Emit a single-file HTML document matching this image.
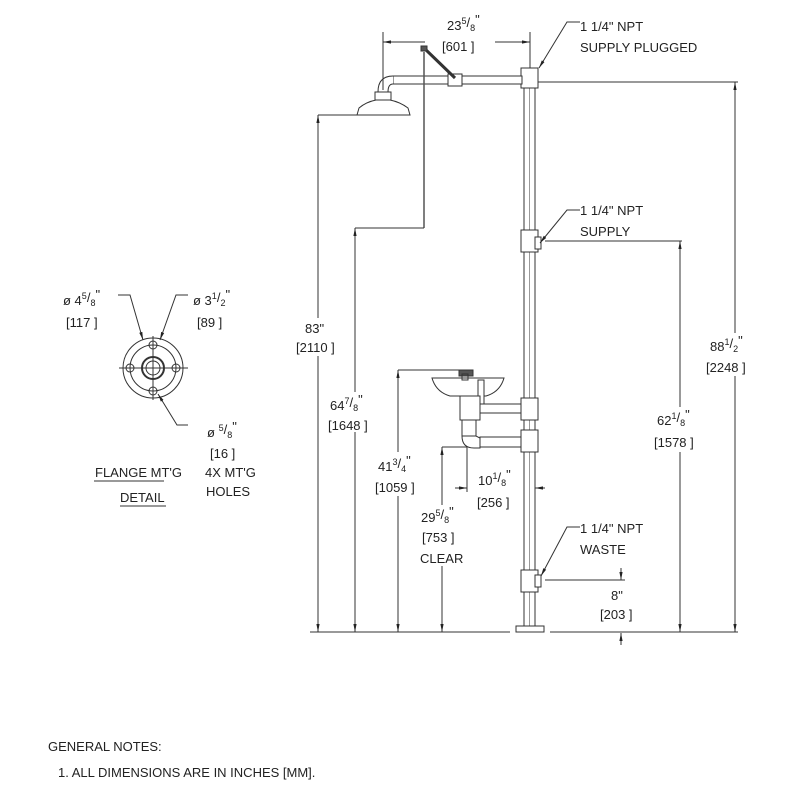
<!DOCTYPE html>
<html><head><meta charset="utf-8"><style>
html,body{margin:0;padding:0;background:#fff;}
svg{display:block;}
text{font-family:"Liberation Sans",sans-serif;font-size:13px;fill:#222;}
.s{font-size:9px;}
</style></head><body>
<svg width="800" height="800" viewBox="0 0 800 800" xmlns="http://www.w3.org/2000/svg">
<defs>
<marker id="a" viewBox="0 0 10 10" refX="10" refY="5" markerWidth="8" markerHeight="8" orient="auto-start-reverse"><path d="M0,3 L10,5 L0,7 z" fill="#222"/></marker>
</defs>
<g stroke="#333" stroke-width="1" fill="none">
<line x1="310" y1="632" x2="510" y2="632"/>
<line x1="550" y1="632" x2="738" y2="632"/>
<rect x="524" y="72" width="11" height="554" fill="#fff"/>
<line x1="529.5" y1="72" x2="529.5" y2="626" stroke="#999"/>
<rect x="521" y="68" width="17" height="20" fill="#fff"/>
<rect x="521" y="230" width="17" height="22" fill="#fff"/>
<rect x="521" y="398" width="17" height="22" fill="#fff"/>
<rect x="521" y="430" width="17" height="22" fill="#fff"/>
<rect x="521" y="570" width="17" height="22" fill="#fff"/>
<rect x="535" y="237" width="6" height="12" fill="#fff"/>
<rect x="535" y="575" width="6" height="12" fill="#fff"/>
<rect x="516" y="626" width="28" height="6" fill="#fff"/>
<rect x="393" y="76" width="129" height="8" fill="#fff"/>
<rect x="448" y="74" width="14" height="12" fill="#fff"/>
<path d="M393,76 Q378,76 378,92 L388,92 Q388,84 393,84" fill="#fff"/>
<rect x="375" y="92" width="16" height="8" fill="#fff"/>
<path d="M357,115 L410,115 L408,108 Q400,102 390,100 L376,100 Q366,102 359,108 Z" fill="#fff"/>
<line x1="424" y1="48" x2="455" y2="78" stroke-width="3"/>
<line x1="424" y1="52" x2="424" y2="228" stroke-width="1.5" stroke="#555"/>
<rect x="421" y="46" width="6" height="5" fill="#555"/>
<line x1="424" y1="228" x2="355" y2="228"/>
<path d="M432,378 L504,378 Q500,392 486,396 L450,396 Q436,392 432,378 Z" fill="#fff"/>
<rect x="459" y="370" width="14" height="6" fill="#555"/>
<rect x="462" y="374" width="6" height="6"/>
<rect x="478" y="380" width="6" height="30" fill="#fff"/>
<rect x="460" y="396" width="20" height="24" fill="#fff"/>
<rect x="480" y="404" width="41" height="9" fill="#fff"/>
<rect x="462" y="420" width="14" height="16" fill="#fff"/>
<path d="M462,436 Q462,448 474,448 L480,448 L480,438 L476,436 Z" fill="#fff"/>
<rect x="480" y="437" width="41" height="10" fill="#fff"/>
<line x1="398" y1="370" x2="462" y2="370"/>
<line x1="442" y1="447" x2="467" y2="447"/>
<line x1="467" y1="447" x2="467" y2="492"/>
</g>
<g stroke="#333" stroke-width="1" fill="none">
<line x1="318" y1="115" x2="357" y2="115"/>
<line x1="318" y1="115" x2="318" y2="318" marker-start="url(#a)"/>
<line x1="318" y1="356" x2="318" y2="632" marker-end="url(#a)"/>
<line x1="355" y1="228" x2="355" y2="392" marker-start="url(#a)"/>
<line x1="355" y1="432" x2="355" y2="632" marker-end="url(#a)"/>
<line x1="398" y1="370" x2="398" y2="452" marker-start="url(#a)"/>
<line x1="398" y1="496" x2="398" y2="632" marker-end="url(#a)"/>
<line x1="442" y1="447" x2="442" y2="505" marker-start="url(#a)"/>
<line x1="442" y1="566" x2="442" y2="632" marker-end="url(#a)"/>
<line x1="383" y1="32" x2="383" y2="90"/>
<line x1="530" y1="32" x2="530" y2="68"/>
<line x1="383" y1="42" x2="425" y2="42" marker-start="url(#a)"/>
<line x1="495" y1="42" x2="530" y2="42" marker-end="url(#a)"/>
<line x1="538" y1="82" x2="738" y2="82"/>
<line x1="735" y1="82" x2="735" y2="333" marker-start="url(#a)"/>
<line x1="735" y1="376" x2="735" y2="632" marker-end="url(#a)"/>
<line x1="545" y1="241" x2="682" y2="241"/>
<line x1="680" y1="241" x2="680" y2="407" marker-start="url(#a)"/>
<line x1="680" y1="452" x2="680" y2="632" marker-end="url(#a)"/>
<line x1="455" y1="488" x2="467" y2="488" marker-end="url(#a)"/>
<line x1="545" y1="488" x2="535" y2="488" marker-end="url(#a)"/>
<line x1="545" y1="580" x2="625" y2="580"/>
<line x1="621" y1="568" x2="621" y2="580" marker-end="url(#a)"/>
<line x1="621" y1="645" x2="621" y2="633" marker-end="url(#a)"/>
<polyline points="580,22 567,22 539,68" marker-end="url(#a)"/>
<polyline points="580,210 567,210 540,243" marker-end="url(#a)"/>
<polyline points="580,527 567,527 541,576" marker-end="url(#a)"/>
<circle cx="153" cy="368" r="30"/>
<circle cx="153" cy="368" r="23"/>
<circle cx="153" cy="368" r="11" stroke-width="2"/>
<circle cx="153" cy="368" r="7"/>
<circle cx="153" cy="345" r="4"/><circle cx="153" cy="391" r="4"/>
<circle cx="130" cy="368" r="4"/><circle cx="176" cy="368" r="4"/>
<line x1="119" y1="368" x2="188" y2="368"/>
<line x1="153" y1="336" x2="153" y2="400"/>
<polyline points="118,295 130,295 143,340" marker-end="url(#a)"/>
<polyline points="188,295 176,295 160,340" marker-end="url(#a)"/>
<polyline points="188,425 177,425 158,394" marker-end="url(#a)"/>
<line x1="94" y1="481" x2="164" y2="481"/>
<line x1="120" y1="506" x2="166" y2="506"/>
</g>
<text x="447" y="30">23<tspan class="s" dy="-6">5</tspan><tspan dy="3">/</tspan><tspan class="s" dy="4">8</tspan><tspan dy="-7">"</tspan></text>
<text x="442" y="51">[601 ]</text>
<text x="580" y="31">1 1/4"  NPT</text>
<text x="580" y="52">SUPPLY PLUGGED</text>
<text x="580" y="215">1 1/4"  NPT</text>
<text x="580" y="236">SUPPLY</text>
<text x="580" y="533">1 1/4"  NPT</text>
<text x="580" y="554">WASTE</text>
<text x="305" y="333">83"</text>
<text x="296" y="352">[2110 ]</text>
<text x="330" y="410">64<tspan class="s" dy="-6">7</tspan><tspan dy="3">/</tspan><tspan class="s" dy="4">8</tspan><tspan dy="-7">"</tspan></text>
<text x="328" y="430">[1648 ]</text>
<text x="378" y="471">41<tspan class="s" dy="-6">3</tspan><tspan dy="3">/</tspan><tspan class="s" dy="4">4</tspan><tspan dy="-7">"</tspan></text>
<text x="375" y="492">[1059 ]</text>
<text x="421" y="522">29<tspan class="s" dy="-6">5</tspan><tspan dy="3">/</tspan><tspan class="s" dy="4">8</tspan><tspan dy="-7">"</tspan></text>
<text x="422" y="542">[753 ]</text>
<text x="420" y="563">CLEAR</text>
<text x="478" y="485">10<tspan class="s" dy="-6">1</tspan><tspan dy="3">/</tspan><tspan class="s" dy="4">8</tspan><tspan dy="-7">"</tspan></text>
<text x="477" y="507">[256 ]</text>
<text x="657" y="425">62<tspan class="s" dy="-6">1</tspan><tspan dy="3">/</tspan><tspan class="s" dy="4">8</tspan><tspan dy="-7">"</tspan></text>
<text x="654" y="447">[1578 ]</text>
<text x="710" y="351">88<tspan class="s" dy="-6">1</tspan><tspan dy="3">/</tspan><tspan class="s" dy="4">2</tspan><tspan dy="-7">"</tspan></text>
<text x="706" y="372">[2248 ]</text>
<text x="611" y="600">8"</text>
<text x="600" y="619">[203 ]</text>
<text x="63" y="305">ø 4<tspan class="s" dy="-6">5</tspan><tspan dy="3">/</tspan><tspan class="s" dy="4">8</tspan><tspan dy="-7">"</tspan></text>
<text x="66" y="327">[117 ]</text>
<text x="193" y="305">ø 3<tspan class="s" dy="-6">1</tspan><tspan dy="3">/</tspan><tspan class="s" dy="4">2</tspan><tspan dy="-7">"</tspan></text>
<text x="197" y="327">[89 ]</text>
<text x="207" y="437">ø <tspan class="s" dy="-6">5</tspan><tspan dy="3">/</tspan><tspan class="s" dy="4">8</tspan><tspan dy="-7">"</tspan></text>
<text x="210" y="458">[16 ]</text>
<text x="95" y="477">FLANGE MT'G</text>
<text x="205" y="477">4X MT'G</text>
<text x="120" y="502">DETAIL</text>
<text x="206" y="496">HOLES</text>
<text x="48" y="751">GENERAL NOTES:</text>
<text x="58" y="777">1. ALL DIMENSIONS ARE IN INCHES [MM].</text>
</svg>
</body></html>
